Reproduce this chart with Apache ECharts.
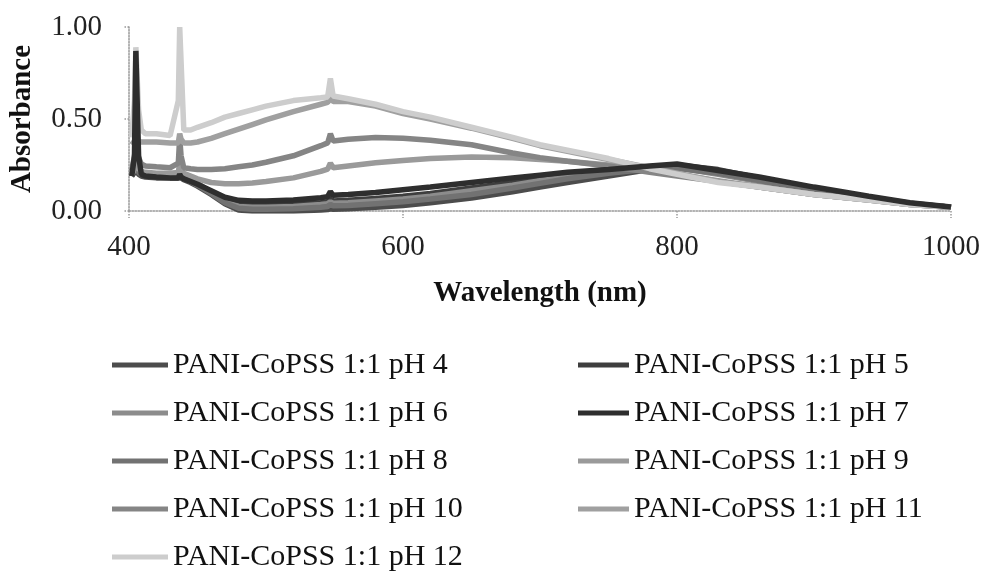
<!DOCTYPE html>
<html>
<head>
<meta charset="utf-8">
<script src="https://cdn.jsdelivr.net/npm/echarts/dist/echarts.min.js"></script>
<style>
  html, body { margin: 0; padding: 0; background: #fff; }
  #chart { width: 986px; height: 574px; }
</style>
</head>
<body>
<div id="chart"></div>
<script>
// wavelength (nm) shared by all spectra
var wavelength = [402, 404, 405, 406, 407, 409, 412, 420, 430, 436, 437, 438, 440, 445, 450, 460, 470, 480, 490, 500, 520, 540, 545, 547, 549, 560, 580, 600, 620, 650, 680, 700, 720, 750, 780, 800, 830, 860, 900, 940, 970, 1000]

var ph4 = [0.19, 0.21, 0.24, 0.22, 0.20, 0.19, 0.185, 0.18, 0.18, 0.18, 0.19, 0.18, 0.17, 0.155, 0.135, 0.09, 0.04, 0.005, 0, 0, 0, 0.005, 0.008, 0.012, 0.01, 0.012, 0.02, 0.03, 0.045, 0.07, 0.105, 0.13, 0.155, 0.19, 0.225, 0.235, 0.21, 0.17, 0.115, 0.07, 0.04, 0.02]
var ph5 = [0.2, 0.22, 0.25, 0.23, 0.21, 0.2, 0.195, 0.19, 0.19, 0.19, 0.2, 0.19, 0.18, 0.165, 0.145, 0.105, 0.06, 0.035, 0.03, 0.03, 0.035, 0.045, 0.05, 0.065, 0.055, 0.058, 0.068, 0.08, 0.095, 0.125, 0.155, 0.175, 0.195, 0.215, 0.24, 0.25, 0.225, 0.18, 0.125, 0.075, 0.042, 0.02]
var ph6 = [0.21, 0.23, 0.26, 0.24, 0.22, 0.21, 0.2, 0.2, 0.195, 0.195, 0.21, 0.2, 0.185, 0.17, 0.15, 0.1, 0.05, 0.025, 0.02, 0.02, 0.025, 0.035, 0.04, 0.05, 0.042, 0.045, 0.055, 0.065, 0.08, 0.11, 0.14, 0.165, 0.185, 0.21, 0.232, 0.235, 0.2, 0.16, 0.11, 0.068, 0.04, 0.02]
var ph7 = [0.19, 0.3, 0.87, 0.86, 0.3, 0.2, 0.19, 0.185, 0.18, 0.18, 0.2, 0.185, 0.175, 0.16, 0.145, 0.11, 0.075, 0.058, 0.055, 0.055, 0.06, 0.072, 0.078, 0.105, 0.085, 0.09, 0.1, 0.115, 0.13, 0.155, 0.18, 0.195, 0.21, 0.225, 0.245, 0.255, 0.22, 0.185, 0.13, 0.08, 0.045, 0.022]
var ph8 = [0.2, 0.22, 0.25, 0.23, 0.21, 0.2, 0.2, 0.195, 0.19, 0.19, 0.21, 0.195, 0.18, 0.16, 0.14, 0.095, 0.045, 0.015, 0.01, 0.01, 0.012, 0.02, 0.025, 0.035, 0.028, 0.03, 0.04, 0.05, 0.065, 0.09, 0.125, 0.15, 0.175, 0.205, 0.228, 0.232, 0.205, 0.165, 0.11, 0.068, 0.04, 0.02]
var ph9 = [0.2, 0.23, 0.27, 0.25, 0.23, 0.215, 0.21, 0.205, 0.205, 0.21, 0.26, 0.22, 0.205, 0.19, 0.175, 0.155, 0.148, 0.148, 0.152, 0.16, 0.18, 0.215, 0.228, 0.26, 0.235, 0.245, 0.262, 0.275, 0.285, 0.293, 0.29, 0.28, 0.27, 0.25, 0.22, 0.2, 0.165, 0.13, 0.09, 0.06, 0.035, 0.02]
var ph10 = [0.22, 0.3, 0.36, 0.34, 0.29, 0.255, 0.245, 0.24, 0.235, 0.26, 0.4, 0.3, 0.235, 0.23, 0.226, 0.225, 0.23, 0.24, 0.25, 0.265, 0.3, 0.355, 0.37, 0.42, 0.38, 0.39, 0.4, 0.395, 0.385, 0.36, 0.315, 0.29, 0.27, 0.245, 0.21, 0.19, 0.16, 0.13, 0.09, 0.06, 0.035, 0.02]
var ph11 = [0.36, 0.38, 0.4, 0.39, 0.38, 0.375, 0.375, 0.375, 0.37, 0.37, 0.42, 0.39, 0.37, 0.37, 0.375, 0.395, 0.42, 0.445, 0.47, 0.495, 0.54, 0.58, 0.59, 0.62, 0.595, 0.595, 0.57, 0.53, 0.5, 0.45, 0.395, 0.355, 0.325, 0.28, 0.235, 0.205, 0.16, 0.13, 0.09, 0.06, 0.035, 0.02]
var ph12 = [0.4, 0.6, 0.89, 0.88, 0.55, 0.44, 0.42, 0.42, 0.41, 0.6, 1.0, 1.0, 0.44, 0.44, 0.455, 0.48, 0.51, 0.53, 0.55, 0.57, 0.6, 0.615, 0.62, 0.72, 0.625, 0.61, 0.58, 0.54, 0.51, 0.455, 0.4, 0.36, 0.33, 0.285, 0.23, 0.2, 0.155, 0.13, 0.09, 0.06, 0.035, 0.02]

var seriesNames = ['PANI-CoPSS 1:1 pH 4', 'PANI-CoPSS 1:1 pH 5', 'PANI-CoPSS 1:1 pH 6', 'PANI-CoPSS 1:1 pH 7', 'PANI-CoPSS 1:1 pH 8', 'PANI-CoPSS 1:1 pH 9', 'PANI-CoPSS 1:1 pH 10', 'PANI-CoPSS 1:1 pH 11', 'PANI-CoPSS 1:1 pH 12']
var seriesValues = [ph4, ph5, ph6, ph7, ph8, ph9, ph10, ph11, ph12]
var seriesColors = ['#4c4c4c', '#3e3e3e', '#8c8c8c', '#2e2e2e', '#727272', '#9a9a9a', '#858585', '#a0a0a0', '#cdcdcd']

var yTicks = [0, 0.5, 1]

var serif = '"Liberation Serif", "DejaVu Serif", serif'

var chart = echarts.init(document.getElementById('chart'))

var series = seriesValues.map(function (vals, i) {
  return {
    name: seriesNames[i],
    type: 'line',
    showSymbol: false,
    animation: false,
    // darkest spectrum (pH 7) sits on top like in the scan
    z: i === 3 ? 3 : 2,
    color: seriesColors[i],
    lineStyle: { color: seriesColors[i], width: 5.5 },
    data: vals.map(function (v, k) { return [wavelength[k], v] })
  }
})

var legendText = { fontFamily: serif, fontSize: 30, color: '#111', lineHeight: 30 }

chart.setOption({
  backgroundColor: '#fff',
  animation: false,
  grid: { left: 125, right: 35, top: 27, bottom: 363 },
  xAxis: {
    type: 'value',
    min: 400,
    max: 1000,
    interval: 200,
    name: 'Wavelength (nm)',
    nameLocation: 'middle',
    nameGap: 68,
    nameTextStyle: { fontFamily: serif, fontSize: 29, fontWeight: 'bold', color: '#111' },
    splitLine: { show: false },
    axisLine: { lineStyle: { color: '#999', type: 'dotted', width: 1.5 } },
    axisTick: { length: 7, lineStyle: { color: '#999', type: 'dotted', width: 1.5 } },
    axisLabel: {
      margin: 22,
      fontFamily: serif,
      fontSize: 29,
      color: '#222',
      formatter: function (v) { return String(v) }
    }
  },
  yAxis: {
    type: 'value',
    min: yTicks[0],
    max: yTicks[yTicks.length - 1],
    interval: 0.5,
    name: 'Absorbance',
    nameLocation: 'middle',
    nameGap: 92,
    nameTextStyle: { fontFamily: serif, fontSize: 29, fontWeight: 'bold', color: '#111' },
    splitLine: { show: false },
    axisLine: { show: true, lineStyle: { color: '#999', type: 'dotted', width: 1.5 } },
    axisTick: { show: true, length: 5, lineStyle: { color: '#999', type: 'dotted', width: 1.5 } },
    axisLabel: {
      margin: 27,
      fontFamily: serif,
      fontSize: 29,
      color: '#222',
      formatter: function (v) { return v.toFixed(2) }
    }
  },
  legend: [
    {
      orient: 'vertical',
      left: 112,
      top: 350,
      height: 224,
      padding: 0,
      itemWidth: 56,
      itemHeight: 5,
      itemGap: 18,
      icon: 'rect',
      textStyle: legendText,
      data: [seriesNames[0], seriesNames[2], seriesNames[4], seriesNames[6], seriesNames[8]]
    },
    {
      orient: 'vertical',
      left: 578,
      top: 350,
      height: 224,
      padding: 0,
      itemWidth: 51,
      itemHeight: 5,
      itemGap: 18,
      icon: 'rect',
      textStyle: legendText,
      data: [seriesNames[1], seriesNames[3], seriesNames[5], seriesNames[7]]
    }
  ],
  series: series
})
</script>
</body>
</html>
